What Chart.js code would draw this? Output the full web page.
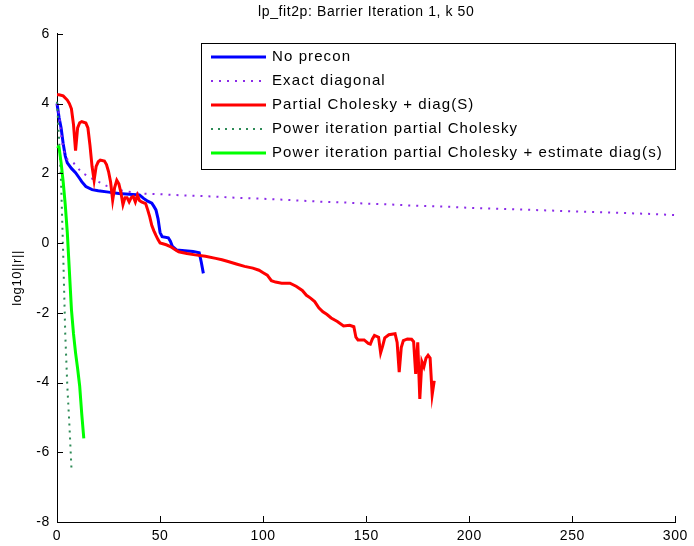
<!DOCTYPE html>
<html>
<head>
<meta charset="utf-8">
<script src="https://cdn.jsdelivr.net/npm/chart.js@4.4.1/dist/chart.umd.min.js"></script>
<style>
  html, body { margin: 0; padding: 0; background: #fff; }
  #wrap { width: 694px; height: 546px; position: relative; }
</style>
</head>
<body>
<div id="wrap"><canvas id="c" width="694" height="546"></canvas></div>
<script>
// ---------- data ----------
const chartTitle = 'lp_fit2p: Barrier Iteration 1, k 50';
const yAxisLabel = 'log10||r||';
const xTickValues = [0, 50, 100, 150, 200, 250, 300];
const yTickValues = [-8, -6, -4, -2, 0, 2, 4, 6];
const seriesLabels = [
  'No precon',
  'Exact diagonal',
  'Partial Cholesky + diag(S)',
  'Power iteration partial Cholesky',
  'Power iteration partial Cholesky + estimate diag(s)'
];

const noPreconX = [0,1,2,3,4,5,7,9,11,12,14,17,20,25,30,35,40,42,44,46,47,48,49,50,51,54,55,56,58,62,66,69,70,71];
const noPreconY = [4.0,3.6,3.3,2.85,2.5,2.3,2.14,2.02,1.85,1.76,1.62,1.53,1.5,1.46,1.42,1.4,1.38,1.28,1.2,1.14,1.05,0.95,0.7,0.3,0.18,0.15,0.05,-0.1,-0.2,-0.22,-0.24,-0.28,-0.55,-0.87];

const exactDiagX = [0,1,2,3,5,8,12,17,24,30,40,50,60,70,80,90,100,110,120,130,140,150,160,170,180,190,200,210,220,230,240,250,260,270,280,290,300];
const exactDiagY = [4.0,3.7,3.1,2.7,2.4,2.3,2.02,1.85,1.64,1.52,1.42,1.40,1.37,1.35,1.32,1.29,1.27,1.24,1.21,1.18,1.16,1.13,1.11,1.08,1.06,1.04,1.01,0.99,0.97,0.95,0.93,0.91,0.89,0.87,0.85,0.83,0.80];

const partialCholX = [0,1,3,5,6,7,8,9,10,11,12,14,15,16,17,18,19,20,21,23,24,25,26,27,28,29,30,31,32,33,34,35,36,37,38,39,40,41,43,44,45,46,47,48,49,50,53,55,57,59,63,67,72,77,80,83,87,91,95,98,100,102,104,106,109,113,116,119,121,123,125,127,129,131,133,136,139,142,144,145,146,149,151,152,153,154,156,157,158,159,161,164,165,166,167,168,170,172,173,174,175,176,177,178,179,180,181,182,183];
const partialCholY = [4.25,4.25,4.22,4.1,4.0,3.85,3.4,2.65,3.3,3.45,3.48,3.44,3.3,2.8,2.2,1.8,2.2,2.33,2.38,2.35,2.25,2.05,1.75,1.23,1.6,1.8,1.7,1.45,1.1,1.3,1.3,1.18,1.3,1.33,1.18,1.37,1.22,1.18,1.13,0.95,0.75,0.5,0.35,0.22,0.1,0.0,-0.05,-0.1,-0.18,-0.25,-0.3,-0.34,-0.38,-0.44,-0.48,-0.53,-0.6,-0.67,-0.72,-0.78,-0.85,-0.92,-1.08,-1.12,-1.15,-1.15,-1.24,-1.36,-1.5,-1.58,-1.68,-1.86,-1.97,-2.05,-2.15,-2.25,-2.38,-2.36,-2.4,-2.7,-2.78,-2.78,-2.88,-2.9,-2.75,-2.65,-2.7,-3.15,-2.95,-2.72,-2.63,-2.6,-2.85,-3.7,-3.0,-2.8,-2.75,-2.76,-2.83,-3.75,-2.85,-4.47,-3.4,-3.55,-3.3,-3.22,-3.3,-4.35,-3.95];

const powerIterX = [0,1,2,3,4,5,6,7];
const powerIterY = [4.05,3.0,1.7,-0.3,-2.6,-4.1,-5.2,-6.45];

const powerEstX = [0,1,2,3,4,5,6,7,8,9,10,11,12,13];
const powerEstY = [2.78,2.75,2.3,1.75,1.1,0.3,-0.8,-1.9,-2.6,-3.15,-3.6,-4.1,-4.9,-5.6];

// ---------- build datasets ----------
function pts(xs, ys) { return xs.map((x, i) => ({ x: x, y: ys[i] })); }
const FONT = "'Liberation Sans', Arial, Helvetica, sans-serif";

const datasets = [
  { label: seriesLabels[0], data: pts(noPreconX, noPreconY), borderColor: '#0000ff', borderWidth: 3, borderDash: [], order: 5 },
  { label: seriesLabels[1], data: pts(exactDiagX, exactDiagY), borderColor: '#8b2be8', borderWidth: 2, borderDash: [2, 6], order: 4 },
  { label: seriesLabels[2], data: pts(partialCholX, partialCholY), borderColor: '#ff0000', borderWidth: 3, borderDash: [], order: 3 },
  { label: seriesLabels[3], data: pts(powerIterX, powerIterY), borderColor: '#2e8b57', borderWidth: 2, borderDash: [2, 5], order: 2 },
  { label: seriesLabels[4], data: pts(powerEstX, powerEstY), borderColor: '#00ff00', borderWidth: 3, borderDash: [], order: 1 }
].map(d => Object.assign(d, { pointRadius: 0, fill: false, tension: 0, clip: false, borderJoinStyle: 'miter', borderCapStyle: 'butt' }));

// slightly wider letter spacing, like the MATLAB renderer
const spacing = {
  id: 'spacing',
  beforeLayout(chart) { chart.ctx.letterSpacing = '0.6px'; },
  beforeDraw(chart) { chart.ctx.letterSpacing = '0.6px'; }
};

// inward tick marks (MATLAB style)
const inwardTicks = {
  id: 'inwardTicks',
  afterDatasetsDraw(chart) {
    const ctx = chart.ctx, a = chart.chartArea;
    const xs = chart.scales.x, ys = chart.scales.y;
    ctx.save();
    ctx.strokeStyle = '#000';
    ctx.lineWidth = 1;
    ctx.setLineDash([]);
    ctx.beginPath();
    xTickValues.forEach(v => {
      const px = Math.round(xs.getPixelForValue(v)) + 0.5;
      ctx.moveTo(px, a.bottom); ctx.lineTo(px, a.bottom - 6);
    });
    yTickValues.forEach(v => {
      const py = Math.round(ys.getPixelForValue(v)) + 0.5;
      ctx.moveTo(a.left, py); ctx.lineTo(a.left + 6, py);
    });
    ctx.stroke();
    ctx.restore();
  }
};

// boxed legend (MATLAB style), drawn from the datasets
const boxLegend = {
  id: 'boxLegend',
  afterDraw(chart) {
    const ctx = chart.ctx;
    const bx = 201, by = 43, bw = 474, bh = 126;
    ctx.save();
    ctx.fillStyle = '#fff';
    ctx.fillRect(bx, by, bw, bh);
    ctx.strokeStyle = '#000';
    ctx.lineWidth = 1;
    ctx.strokeRect(bx + 0.5, by + 0.5, bw, bh);
    ctx.font = '15px ' + FONT;
    ctx.letterSpacing = '1.1px';
    ctx.textBaseline = 'middle';
    ctx.textAlign = 'left';
    chart.data.datasets.forEach((d, i) => {
      const y = by + 14 + i * 24;
      ctx.beginPath();
      ctx.strokeStyle = d.borderColor;
      ctx.lineWidth = d.borderWidth;
      ctx.setLineDash(d.borderDash || []);
      ctx.moveTo(211, y); ctx.lineTo(266, y);
      ctx.stroke();
      ctx.setLineDash([]);
      ctx.fillStyle = '#000';
      ctx.fillText(d.label, 272, y);
    });
    ctx.restore();
  }
};

new Chart(document.getElementById('c'), {
  type: 'line',
  data: { datasets: datasets },
  plugins: [spacing, inwardTicks, boxLegend],
  options: {
    responsive: false,
    animation: false,
    devicePixelRatio: 1,
    layout: { padding: { left: 0, right: 16, top: 0, bottom: 0 } },
    plugins: {
      legend: { display: false },
      tooltip: { enabled: false },
      title: {
        display: true, text: chartTitle, color: '#000', fullSize: false,
        font: { family: FONT, size: 14, weight: 'normal', lineHeight: 1.2 },
        padding: { top: 4, bottom: 13 }
      }
    },
    scales: {
      x: {
        type: 'linear', min: 0, max: 300,
        afterFit(s) { s.height = 24; },
        afterBuildTicks(s) { s.ticks = xTickValues.map(v => ({ value: v })); },
        grid: { display: false, drawTicks: false },
        border: { display: true, color: '#000', width: 1 },
        ticks: { color: '#000', padding: 6, maxRotation: 0, font: { family: FONT, size: 14 } }
      },
      y: {
        type: 'linear', min: -8, max: 6,
        afterFit(s) { s.width = 57; },
        afterBuildTicks(s) { s.ticks = yTickValues.map(v => ({ value: v })); },
        grid: { display: false, drawTicks: false },
        border: { display: true, color: '#000', width: 1 },
        ticks: { color: '#000', padding: 7, font: { family: FONT, size: 14 } },
        title: { display: true, text: yAxisLabel, color: '#000', padding: { top: 10, bottom: 0 }, font: { family: FONT, size: 13 } }
      }
    }
  }
});
</script>
</body>
</html>
